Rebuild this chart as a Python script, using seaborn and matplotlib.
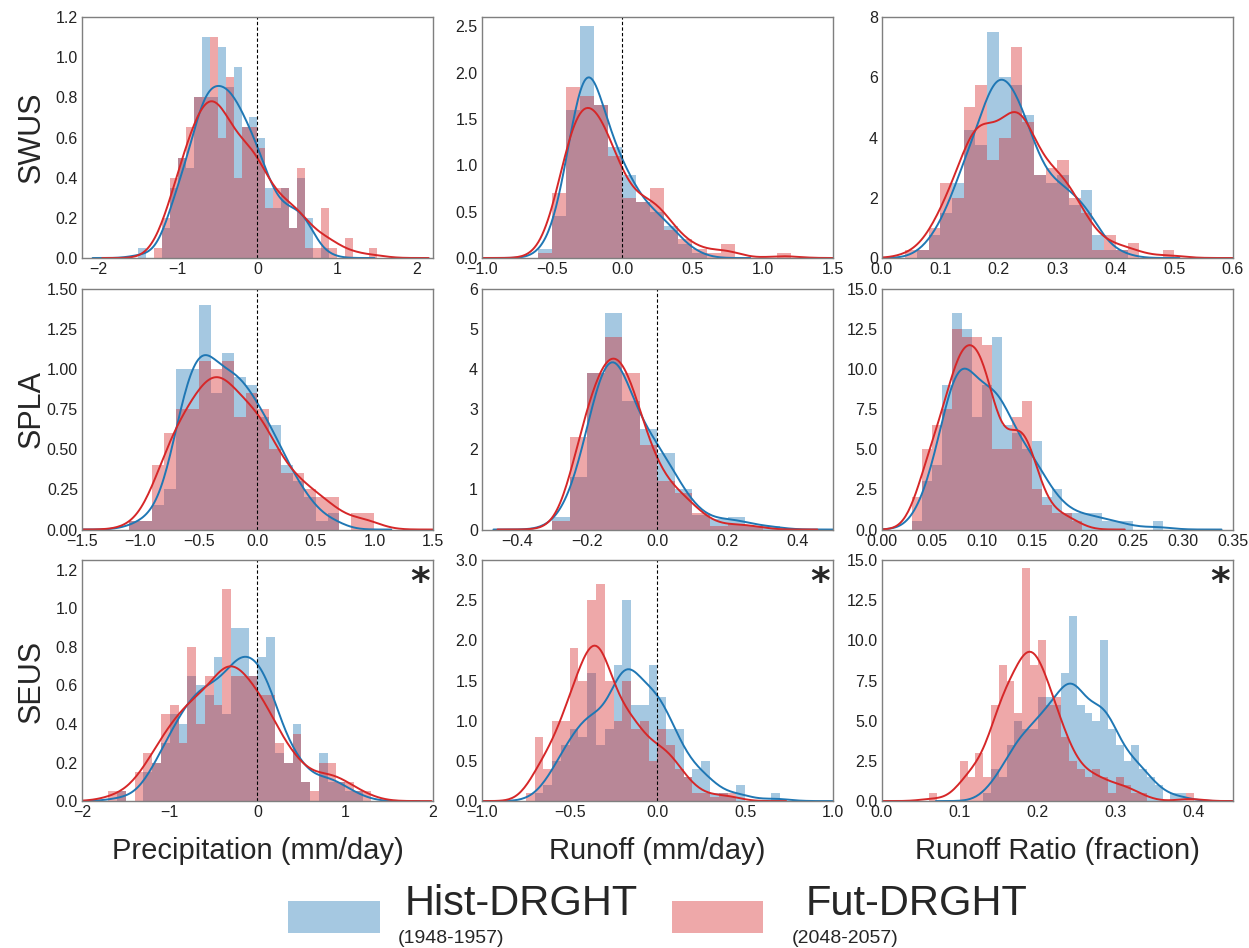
import numpy as np
import matplotlib.pyplot as plt
import seaborn as sns
from matplotlib.patches import Rectangle
from matplotlib.ticker import MultipleLocator

# density heights (first bin start, bin width, heights)
# SWUS
swus_pr_hist_start, swus_pr_fut_start, swus_pr_w = -1.5, -1.3, 0.1
swus_pr_hist = [0.05, 0, 0, 0.15, 0.35, 0.5, 0.45, 0.8, 1.1, 0.8, 1.05, 0.85, 0.95, 0.65,
                0.7, 0.6, 0.35, 0.25, 0.35, 0.15, 0.4, 0.2, 0, 0.05]
swus_pr_fut = [0.05, 0.2, 0.4, 0.5, 0.65, 0.8, 0.8, 1.1, 0.6, 0.9, 0.4, 0.65, 0.65, 0.55,
               0.25, 0.35, 0.35, 0.15, 0.45, 0.05, 0.05, 0.25, 0.05, 0, 0.1, 0, 0, 0.05]

swus_ro_hist_start, swus_ro_fut_start, swus_ro_w = -0.6, -0.6, 0.1
swus_ro_hist = [0.1, 0.45, 1.6, 2.5, 1.65, 1.2, 0.9, 0.6, 0.5, 0.35, 0.15, 0.05]
swus_ro_fut = [0.05, 0.7, 1.85, 1.75, 1.65, 1.1, 0.65, 0.6, 0.75, 0.3, 0.2, 0.1, 0.05,
               0.15, 0, 0, 0, 0.05]

swus_rr_hist_start, swus_rr_fut_start, swus_rr_w = 0.06, 0.04, 0.02
swus_rr_hist = [0.25, 0.75, 1.5, 2.5, 4.25, 3.75, 7.5, 6.0, 5.75, 4.75, 2.75, 2.5, 2.75,
                1.75, 2.25, 0.75, 0.25, 0.25]
swus_rr_fut = [0.25, 0.25, 1.0, 2.5, 2.0, 5.0, 5.75, 3.25, 4.0, 7.0, 4.5, 2.75, 3.0, 3.25,
               2.0, 1.5, 0.25, 0.75, 0.25, 0.5, 0, 0, 0.25]

# SPLA
spla_pr_hist_start, spla_pr_fut_start, spla_pr_w = -1.1, -1.1, 0.1
spla_pr_hist = [0.05, 0.05, 0.15, 0.25, 1.0, 1.0, 1.4, 0.85, 1.1, 0.95, 0.9, 0.7, 0.65,
                0.4, 0.3, 0.2, 0.05, 0.1]
spla_pr_fut = [0.05, 0.05, 0.4, 0.6, 0.75, 0.75, 1.05, 1.0, 1.05, 0.7, 0.85, 0.75, 0.5,
               0.35, 0.35, 0.25, 0.2, 0.2, 0, 0.1, 0.1]

spla_ro_hist_start, spla_ro_fut_start, spla_ro_w = -0.30, -0.30, 0.05
spla_ro_hist = [0.3, 1.3, 3.9, 5.4, 3.2, 2.5, 1.9, 1.0, 0.35, 0.25, 0.3, 0.1, 0.1]
spla_ro_fut = [0.2, 2.3, 3.9, 4.8, 3.9, 2.1, 1.2, 0.9, 0.4, 0.1, 0.15, 0.1]

spla_rr_hist_start, spla_rr_fut_start, spla_rr_w = 0.03, 0.03, 0.01
spla_rr_hist = [0.5, 3.0, 4.0, 9.0, 13.5, 12.5, 7.0, 9.0, 12.0, 6.5, 6.0, 5.0, 5.5, 2.0,
                2.5, 1.0, 1.0, 1.0, 1.0, 0.5, 0.5, 0.5, 0, 0, 0.5]
spla_rr_fut = [2.0, 5.0, 6.5, 7.5, 12.5, 12.0, 12.0, 11.5, 5.0, 5.0, 7.0, 8.0, 2.5, 1.5,
               1.0, 1.0, 0.5]

# SEUS
seus_pr_hist_start, seus_pr_fut_start, seus_pr_w = -1.6, -1.7, 0.1
seus_pr_hist = [0.05, 0, 0, 0.15, 0.2, 0.3, 0.45, 0.4, 0.65, 0.6, 0.55, 0.75, 0.45, 0.9,
                0.9, 0.65, 0.75, 0.85, 0.25, 0.2, 0.4, 0.1, 0, 0.25, 0.1, 0.1, 0.05, 0.05]
seus_pr_fut = [0.05, 0.05, 0, 0.15, 0.25, 0.2, 0.45, 0.5, 0.3, 0.8, 0.4, 0.65, 0.5, 1.1,
               0.65, 0.65, 0.65, 0.55, 0.55, 0.3, 0.2, 0.35, 0.1, 0.05, 0.2, 0.2, 0.1,
               0.1, 0.05, 0.05]

seus_ro_hist_start, seus_ro_fut_start, seus_ro_w = -0.70, -0.75, 0.05
seus_ro_hist = [0.1, 0.2, 0.5, 0.7, 0.9, 0.8, 1.6, 0.7, 0.9, 1.7, 2.5, 1.2, 1.2, 1.7, 1.3,
                0.9, 0.9, 0.3, 0.4, 0.5, 0.1, 0.1, 0.05, 0.2, 0, 0, 0, 0.1]
seus_ro_fut = [0.1, 0.8, 0.4, 1.0, 1.0, 1.9, 1.5, 2.5, 2.7, 1.5, 1.0, 1.5, 0.9, 1.0, 0.5,
               0.9, 0.7, 0.4, 0.3, 0.1, 0.1, 0.05, 0.1, 0.1]

seus_rr_hist_start, seus_rr_fut_start, seus_rr_w = 0.13, 0.06, 0.01
seus_rr_hist = [0.5, 2.0, 1.5, 3.5, 5.0, 4.5, 4.5, 6.5, 6.5, 6.0, 8.0, 11.5, 6.0, 5.5,
                5.0, 10.0, 4.5, 3.5, 2.5, 3.5, 2.0, 1.5, 1.0, 0, 0.5, 0.5]
seus_rr_fut = [0.5, 0, 0, 0, 2.5, 1.5, 3.0, 1.5, 6.0, 8.5, 7.5, 5.5, 14.5, 8.5, 10.0, 6.0,
               6.5, 4.0, 2.5, 2.0, 1.5, 2.0, 1.5, 0.5, 1.5, 1.0, 0.5, 0.5, 0, 0, 0, 0, 0,
               0.5]

regions = ['SWUS', 'SPLA', 'SEUS']
variables = ['Precipitation (mm/day)', 'Runoff (mm/day)', 'Runoff Ratio (fraction)']

panels = [
    [(swus_pr_hist_start, swus_pr_hist, swus_pr_fut_start, swus_pr_fut, swus_pr_w),
     (swus_ro_hist_start, swus_ro_hist, swus_ro_fut_start, swus_ro_fut, swus_ro_w),
     (swus_rr_hist_start, swus_rr_hist, swus_rr_fut_start, swus_rr_fut, swus_rr_w)],
    [(spla_pr_hist_start, spla_pr_hist, spla_pr_fut_start, spla_pr_fut, spla_pr_w),
     (spla_ro_hist_start, spla_ro_hist, spla_ro_fut_start, spla_ro_fut, spla_ro_w),
     (spla_rr_hist_start, spla_rr_hist, spla_rr_fut_start, spla_rr_fut, spla_rr_w)],
    [(seus_pr_hist_start, seus_pr_hist, seus_pr_fut_start, seus_pr_fut, seus_pr_w),
     (seus_ro_hist_start, seus_ro_hist, seus_ro_fut_start, seus_ro_fut, seus_ro_w),
     (seus_rr_hist_start, seus_rr_hist, seus_rr_fut_start, seus_rr_fut, seus_rr_w)],
]

# axis limits / tick steps per panel
xlims = [[(-2.2, 2.2), (-1.0, 1.5), (0, 0.6)],
         [(-1.5, 1.5), (-0.5, 0.5), (0, 0.35)],
         [(-2.0, 2.0), (-1.0, 1.0), (0, 0.45)]]
xsteps = [[1, 0.5, 0.1], [0.5, 0.2, 0.05], [1, 0.5, 0.1]]
ylims = [[(0, 1.2), (0, 2.6), (0, 8)],
         [(0, 1.5), (0, 6), (0, 15)],
         [(0, 1.25), (0, 3), (0, 15)]]
ysteps = [[0.2, 0.5, 2], [0.25, 1, 2.5], [0.2, 0.5, 2.5]]
yfmt = [['%.1f', '%.1f', '%d'], ['%.2f', '%d', '%.1f'], ['%.1f', '%.1f', '%.1f']]

hist_color = '#1f77b4'
fut_color = '#d62728'

sns.set_style('white')
plt.rcParams['font.family'] = ['Liberation Sans', 'DejaVu Sans']
plt.rcParams['axes.edgecolor'] = '#7f7f7f'
plt.rcParams['axes.linewidth'] = 1.0


def draw(ax, start, heights, width, color):
    n = len(heights)
    centers = start + width * (np.arange(n) + 0.5)
    sns.histplot(x=centers, weights=heights, binwidth=width,
                 binrange=(start, start + width * n), stat='count',
                 color=color, alpha=0.4, linewidth=0, ax=ax)
    sns.kdeplot(x=centers, weights=heights, bw_adjust=0.55, color=color,
                linewidth=1.4, ax=ax)


fig, axes = plt.subplots(3, 3, figsize=(12.49, 9.48), dpi=100)
fig.subplots_adjust(left=0.0657, right=0.987, top=0.982, bottom=0.155,
                    wspace=0.14, hspace=0.127)

for i in range(3):
    for j in range(3):
        ax = axes[i, j]
        hs, hh, fs, fh, w = panels[i][j]
        draw(ax, hs, hh, w, hist_color)
        draw(ax, fs, fh, w, fut_color)
        if j < 2:
            ax.axvline(0, color='black', linestyle='--', linewidth=0.8, dashes=(3, 2))
        ax.set_xlim(*xlims[i][j])
        ax.set_ylim(*ylims[i][j])
        ax.xaxis.set_major_locator(MultipleLocator(xsteps[i][j]))
        ax.yaxis.set_major_locator(MultipleLocator(ysteps[i][j]))
        ax.yaxis.set_major_formatter(plt.FormatStrFormatter(yfmt[i][j]))
        ax.tick_params(labelsize=11.5, colors='#222222', length=0, pad=3)
        ax.set_ylabel('')
        ax.set_xlabel('')
        if i == 2:
            ax.set_xlabel(variables[j], fontsize=21, labelpad=12)
            ax.text(0.963, 0.905, '*', transform=ax.transAxes, fontsize=27,
                    fontweight='bold', ha='center', va='center',
                    family='DejaVu Sans')
    fig.text(0.025, [0.855, 0.5686, 0.2811][i], regions[i], rotation=90,
             fontsize=22, ha='center', va='center')

# legend drawn as patches + two-line labels
fig.patches.append(Rectangle((0.2306, 0.0158), 0.0737, 0.0338, transform=fig.transFigure,
                             facecolor=hist_color, alpha=0.4, linewidth=0))
fig.patches.append(Rectangle((0.538, 0.0158), 0.0729, 0.0338, transform=fig.transFigure,
                             facecolor=fut_color, alpha=0.4, linewidth=0))
fig.text(0.324, 0.035, 'Hist-DRGHT', fontsize=30, ha='left', va='baseline')
fig.text(0.3187, 0.005, '(1948-1957)', fontsize=14, ha='left', va='baseline')
fig.text(0.645, 0.035, 'Fut-DRGHT', fontsize=30, ha='left', va='baseline')
fig.text(0.634, 0.005, '(2048-2057)', fontsize=14, ha='left', va='baseline')

plt.savefig('out.png', dpi=100)
